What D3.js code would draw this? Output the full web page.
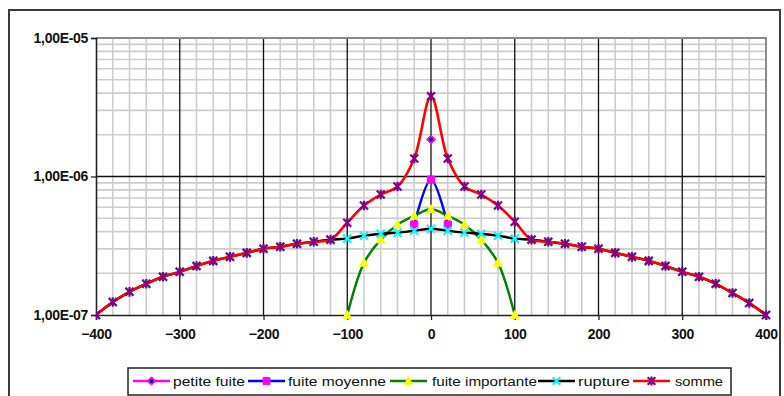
<!DOCTYPE html>
<html>
<head>
<meta charset="utf-8">
<script src="https://cdn.jsdelivr.net/npm/d3@7/dist/d3.min.js"></script>
<style>
  html, body { margin: 0; padding: 0; background: #fff; }
  svg { display: block; }
  text { font-family: "Liberation Sans", Arial, sans-serif; }
</style>
</head>
<body>
<svg id="chart" width="784" height="396"></svg>
<script>
// Distance (m) for each point of the series
const xAll = [-400,-380,-360,-340,-320,-300,-280,-260,-240,-220,-200,-180,-160,-140,-120,-100,-80,-60,-40,-20,0,
              20,40,60,80,100,120,140,160,180,200,220,240,260,280,300,320,340,360,380,400];
const xMid = [-100,-80,-60,-40,-20,0,20,40,60,80,100];
const xMoy = [-20,0,20];
const xPet = [0];

// Frequencies
const petiteFuite = [1.85e-6];
const fuiteMoyenne = [4.5e-7, 9.5e-7, 4.5e-7];
const fuiteImportante = [1.0e-7, 2.38e-7, 3.50e-7, 4.49e-7, 5.2e-7, 5.8e-7, 5.2e-7, 4.49e-7, 3.50e-7, 2.38e-7, 1.0e-7];
const rupture = [1.00e-7,1.24e-7,1.47e-7,1.68e-7,1.89e-7,2.05e-7,2.26e-7,2.46e-7,2.63e-7,2.81e-7,3.01e-7,3.11e-7,3.27e-7,3.38e-7,3.50e-7,
                 3.56e-7,3.74e-7,3.86e-7,3.93e-7,4.06e-7,4.20e-7,4.06e-7,3.93e-7,3.86e-7,3.74e-7,3.56e-7,
                 3.50e-7,3.38e-7,3.27e-7,3.11e-7,3.01e-7,2.81e-7,2.63e-7,2.46e-7,2.26e-7,2.05e-7,1.89e-7,1.68e-7,1.44e-7,1.22e-7,1.00e-7];
const somme = [1.00e-7,1.24e-7,1.47e-7,1.68e-7,1.89e-7,2.05e-7,2.26e-7,2.46e-7,2.63e-7,2.81e-7,3.01e-7,3.11e-7,3.27e-7,3.38e-7,3.50e-7,
               4.64e-7,6.17e-7,7.41e-7,8.46e-7,1.35e-6,3.80e-6,1.35e-6,8.46e-7,7.41e-7,6.17e-7,4.72e-7,
               3.50e-7,3.38e-7,3.27e-7,3.11e-7,3.01e-7,2.81e-7,2.63e-7,2.46e-7,2.26e-7,2.05e-7,1.89e-7,1.68e-7,1.44e-7,1.22e-7,1.00e-7];

// Axis ticks and labels
const xTicks = [-400,-300,-200,-100,0,100,200,300,400];
const yTicks = [1e-7, 1e-6, 1e-5];
const yTickLabels = ["1,00E-07", "1,00E-06", "1,00E-05"];
const seriesNames = ["petite fuite", "fuite moyenne", "fuite importante", "rupture", "somme"];

const svg = d3.select("#chart");
const L = 96, R = 766, T = 38, B = 315;
const x = d3.scaleLinear().domain([-400, 400]).range([L, R]);
const y = d3.scaleLog().domain([1e-7, 1e-5]).range([B, T]);

// outer chart frame
svg.append("rect").attr("x", 9).attr("y", 10).attr("width", 771).attr("height", 420)
  .attr("fill", "none").attr("stroke", "#3a3a3a").attr("stroke-width", 2);

// plot area
svg.append("rect").attr("x", L).attr("y", T).attr("width", R - L).attr("height", B - T)
  .attr("fill", "#fff");

const grid = svg.append("g");
// minor vertical grid every 20
const minorX = d3.range(-380, 400, 20).filter(v => v % 100 !== 0);
grid.selectAll(".vmin").data(minorX).join("line")
  .attr("x1", d => x(d)).attr("x2", d => x(d)).attr("y1", T).attr("y2", B)
  .attr("stroke", "#cdcdcd").attr("stroke-width", 1.6);
// minor horizontal grid on log scale
const minorY = y.ticks().filter(v => !yTicks.some(t => Math.abs(v / t - 1) < 1e-6));
grid.selectAll(".hmin").data(minorY).join("line")
  .attr("x1", L).attr("x2", R).attr("y1", d => y(d)).attr("y2", d => y(d))
  .attr("stroke", "#cdcdcd").attr("stroke-width", 1.6);
// major grid
grid.selectAll(".vmaj").data(xTicks.slice(1, -1)).join("line")
  .attr("x1", d => x(d)).attr("x2", d => x(d)).attr("y1", T).attr("y2", B)
  .attr("stroke", "#111").attr("stroke-width", 1.3);
grid.selectAll(".hmaj").data([1e-6]).join("line")
  .attr("x1", L).attr("x2", R).attr("y1", d => y(d)).attr("y2", d => y(d))
  .attr("stroke", "#111").attr("stroke-width", 1.3);

// plot area border (top/right grey)
svg.append("path")
  .attr("d", `M${L},${T}H${R}V${B}`)
  .attr("fill", "none").attr("stroke", "#8a8a8a").attr("stroke-width", 2);

// axes
const xAxis = svg.append("g").attr("transform", `translate(0,${B})`)
  .call(d3.axisBottom(x).tickValues(xTicks).tickSize(5).tickPadding(9).tickFormat(d3.format("d")));
const yAxis = svg.append("g").attr("transform", `translate(${L},0)`)
  .call(d3.axisLeft(y).tickValues(yTicks).tickSize(5).tickPadding(3)
    .tickFormat((d, i) => yTickLabels[i]));
[xAxis, yAxis].forEach(a => {
  a.select(".domain").attr("stroke", "#222").attr("stroke-width", 1.6);
  a.selectAll(".tick line").attr("stroke", "#222").attr("stroke-width", 1.3);
  a.selectAll(".tick text").attr("font-family", "Liberation Sans, Arial, sans-serif")
    .attr("font-size", 14).attr("font-weight", "bold").attr("fill", "#111")
    .attr("letter-spacing", "-0.3px");
});
xAxis.selectAll(".tick text").attr("dy", "0.71em");

// clip
svg.append("clipPath").attr("id", "clip").append("rect")
  .attr("x", L).attr("y", T - 6).attr("width", R - L + 6).attr("height", B - T + 12);

// marker shapes
function markerPath(kind, s) {
  if (kind === "diamond") return `M0,${-s}L${s},0L0,${s}L${-s},0Z`;
  if (kind === "square") return `M${-s},${-s}H${s}V${s}H${-s}Z`;
  if (kind === "triangle") return `M0,${-s * 1.1}L${s},${s * 0.8}L${-s},${s * 0.8}Z`;
  if (kind === "x") return `M${-s},${-s}L${s},${s}M${-s},${s}L${s},${-s}M0,${-s * 0.5}V${s * 0.5}`;
  if (kind === "star") return `M${-s},${-s}L${s},${s}M${-s},${s}L${s},${-s}M0,${-s * 1.2}V${s * 1.2}`;
}

const series = [
  { name: seriesNames[0], xs: xPet, ys: petiteFuite, line: "#ff00ff", kind: "diamond", fill: "#ff00ff", stroke: "#ff00ff", size: 4.4 },
  { name: seriesNames[1], xs: xMoy, ys: fuiteMoyenne, line: "#0000ff", kind: "square", fill: "#ff00ff", stroke: "#ff00ff", size: 3.6 },
  { name: seriesNames[2], xs: xMid, ys: fuiteImportante, line: "#008000", kind: "triangle", fill: "#ffff00", stroke: "#ffff00", size: 4.2 },
  { name: seriesNames[3], xs: xAll, ys: rupture, line: "#000000", kind: "x", fill: "none", stroke: "#00ffff", size: 4 },
  { name: seriesNames[4], xs: xAll, ys: somme, line: "#ff0000", kind: "star", fill: "none", stroke: "#800080", size: 4 }
];

const lineGen = d3.line().x(d => x(d[0])).y(d => y(d[1])).curve(d3.curveCatmullRom.alpha(0.5));
const plot = svg.append("g").attr("clip-path", "url(#clip)");

function drawMarker(g, s, cx, cy, scale) {
  const p = g.append("path").attr("transform", `translate(${cx},${cy})`)
    .attr("d", markerPath(s.kind, s.size * (scale || 1)));
  if (s.fill !== "none") {
    p.attr("fill", s.fill).attr("stroke", s.stroke).attr("stroke-width", 1);
  } else {
    p.attr("fill", "none").attr("stroke", s.stroke).attr("stroke-width", 2.2);
  }
  if (s.kind === "diamond") {
    g.append("circle").attr("cx", cx).attr("cy", cy).attr("r", 1.9).attr("fill", "#000080");
  }
}

series.forEach(s => {
  const pts = s.xs.map((v, i) => [v, s.ys[i]]);
  const g = plot.append("g");
  if (pts.length > 1) {
    g.append("path").attr("d", lineGen(pts)).attr("fill", "none")
      .attr("stroke", s.line).attr("stroke-width", s.kind === "star" ? 2.6 : 2.4)
      .attr("stroke-linejoin", "round");
  }
  pts.forEach(p => drawMarker(g, s, x(p[0]), y(p[1])));
});

// legend
const lg = svg.append("g");
lg.append("rect").attr("x", 128).attr("y", 368).attr("width", 603).attr("height", 27)
  .attr("fill", "#fff").attr("stroke", "#222").attr("stroke-width", 1.5);
const legendItems = [
  { lx: 133, tx: 173, tw: 72 },
  { lx: 248, tx: 288, tw: 98 },
  { lx: 390, tx: 432, tw: 105 },
  { lx: 538, tx: 578, tw: 52 },
  { lx: 633, tx: 675, tw: 48 }
];
legendItems.forEach((it, i) => {
  const s = series[i];
  const ly = 381;
  lg.append("line").attr("x1", it.lx).attr("x2", it.lx + 37).attr("y1", ly).attr("y2", ly)
    .attr("stroke", s.line).attr("stroke-width", 2.4);
  drawMarker(lg, s, it.lx + 18.5, ly, 0.95);
  lg.append("text").attr("x", it.tx).attr("y", ly).attr("dy", "0.35em")
    .attr("font-size", 13).attr("fill", "#111")
    .attr("textLength", it.tw).attr("lengthAdjust", "spacingAndGlyphs")
    .text(s.name);
});
</script>
</body>
</html>
